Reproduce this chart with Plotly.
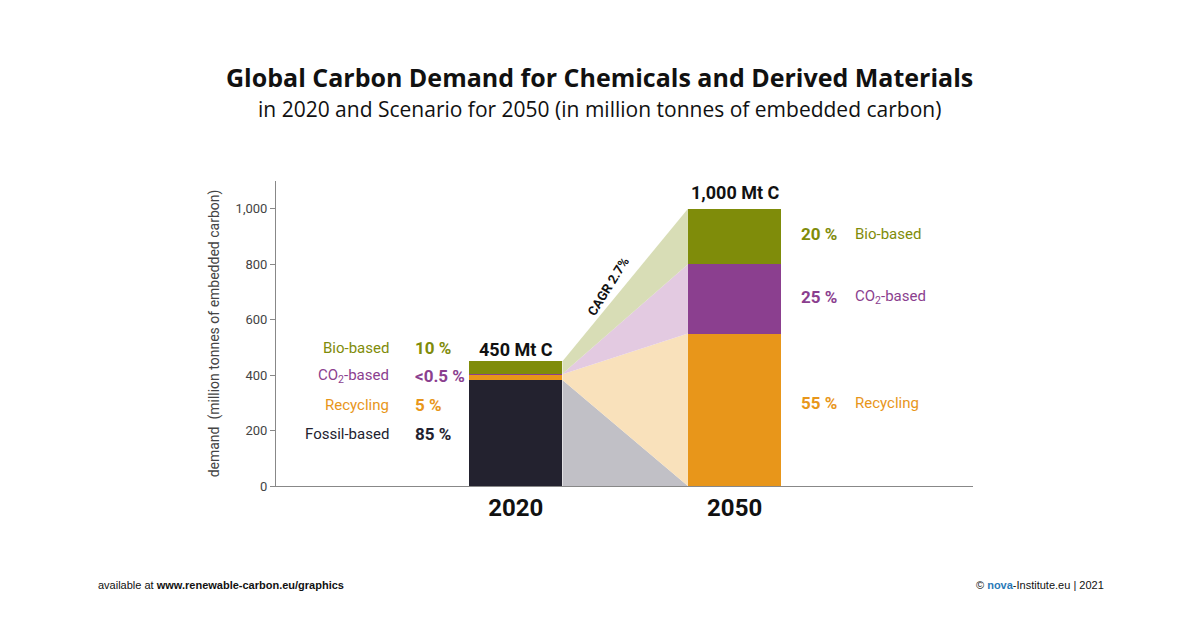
import plotly.graph_objects as go

years = ["2020", "2050"]
xpos = [3.44, 6.58]
width = 1.34
fossil = [382, 0]
recycling = [21, 550]
co2 = [2, 250]
bio = [45, 200]
totals_lbl = ["450 Mt C", "1,000 Mt C"]

C_F, C_R, C_C, C_B = "#23222f", "#e8961a", "#8b3f8f", "#7f8c0a"
L_F, L_R, L_C, L_B = "#c1c0c6", "#f9e1bb", "#e3cae1", "#d8ddb6"
FONT = "Liberation Sans Narrow, Roboto, Arial"
OFF = 7  # page body margin offset

fig = go.Figure()
xl = xpos[0] + width / 2
xr = xpos[1] - width / 2

def cum(i, n):
    s = [fossil[i], recycling[i], co2[i], bio[i]]
    return sum(s[:n])

def fan(n, color):
    y0a, y1a = cum(0, n), cum(0, n + 1)
    y0b, y1b = cum(1, n), cum(1, n + 1)
    fig.add_trace(go.Scatter(x=[xl, xr, xr, xl, xl], y=[y0a, y0b, y1b, y1a, y0a],
                             fill="toself", fillcolor=color, mode="none",
                             hoverinfo="skip", showlegend=False))

for n, c in enumerate([L_F, L_R, L_C, L_B]):
    fan(n, c)

for vals, c in [(fossil, C_F), (recycling, C_R), (co2, C_C), (bio, C_B)]:
    fig.add_trace(go.Bar(x=xpos, y=vals, width=width, marker=dict(color=c, line_width=0),
                         showlegend=False))

fig.update_layout(
    barmode="stack", width=1200, height=630, plot_bgcolor="white", paper_bgcolor="white",
    margin=dict(l=275 - OFF, r=228 + OFF, t=180 - OFF, b=145 + OFF), font=dict(family=FONT, color="#222"),
    xaxis=dict(range=[0, 10], tickvals=xpos, ticktext=["<b>" + y + "</b>" for y in years],
               showline=True, linecolor="#888",
               ticks="", tickfont=dict(size=24, color="#111"),
               showgrid=False, zeroline=False),
    yaxis=dict(range=[0, 1100], tickvals=[0, 200, 400, 600, 800, 1000], tickformat=",",
               showline=True, linecolor="#888", ticks="outside", ticklen=5, tickcolor="#888",
               tickfont=dict(size=13, color="#444"), showgrid=False, zeroline=False,
               title=dict(text="demand  (million tonnes of embedded carbon)",
                          font=dict(size=14, color="#444"), standoff=12)),
)

def px(xp, yp):
    return (xp - 275) / 697, (485 - yp) / 305

def pann(xp, yp, text, size, color, xanchor="center", bold=False, family=FONT, angle=0):
    x, y = px(xp, yp)
    if bold:
        text = "<b>" + text + "</b>"
    fig.add_annotation(x=x, y=y, xref="x domain", yref="y domain", text=text, showarrow=False,
                       font=dict(size=size, color=color, family=family), xanchor=xanchor,
                       yanchor="middle", textangle=angle)

pann(598, 76, "Global Carbon Demand for Chemicals and Derived Materials", 25, "#111", bold=True, family="Open Sans, Arial")
pann(598, 108, "in 2020 and Scenario for 2050 (in million tonnes of embedded carbon)", 21, "#111", family="Open Sans, Arial")

pann(515, 348, totals_lbl[0], 18, "#111", bold=True)
pann(734, 191, totals_lbl[1], 18, "#111", bold=True)
pann(607, 285, "CAGR 2.7%", 13, "#111", bold=True, angle=-58)

rows = [(347, "Bio-based", "10 %", C_B), (375, "CO<sub>2</sub>-based", "<0.5 %", C_C),
        (404, "Recycling", "5 %", C_R), (433, "Fossil-based", "85 %", C_F)]
for yp, name, pct, c in rows:
    pann(390, yp, name, 15, c, xanchor="right")
    pann(412, yp, pct, 17, c, xanchor="left", bold=True)

rrows = [(233, "Bio-based", "20 %", C_B), (296, "CO<sub>2</sub>-based", "25 %", C_C),
         (402, "Recycling", "55 %", C_R)]
for yp, name, pct, c in rrows:
    pann(798, yp, pct, 17, c, xanchor="left", bold=True)
    pann(852, yp, name, 15, c, xanchor="left")

pann(95, 584, "available at <b>www.renewable-carbon.eu/graphics</b>", 11, "#111", xanchor="left", family="Arial")
pann(1105, 584, "© <b><span style='color:#2a7ab8'>nova</span></b>-Institute.eu | 2021", 11, "#111", xanchor="right", family="Arial")

fig.write_html("out.html")
